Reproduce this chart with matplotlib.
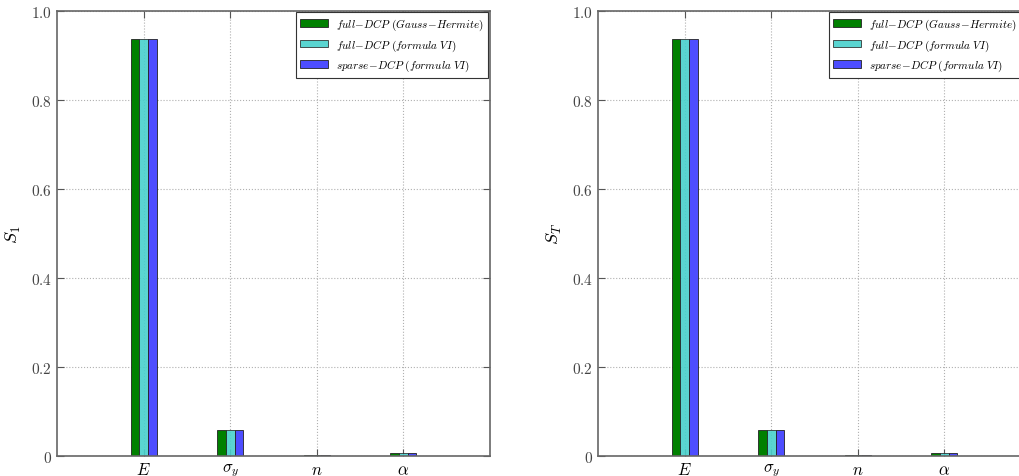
import matplotlib
matplotlib.use("Agg")
import matplotlib.pyplot as plt
import numpy as np

plt.rcParams['mathtext.fontset'] = 'cm'
plt.rcParams['font.family'] = 'serif'
plt.rcParams['font.serif'] = ['DejaVu Serif']

params = [r'$E$', r'$\sigma_y$', r'$n$', r'$\alpha$']
labels = [r'$full\!-\!DCP\ (Gauss\!-\!Hermite)$',
          r'$full\!-\!DCP\ (formula\ VI)$',
          r'$sparse\!-\!DCP\ (formula\ VI)$']

# first-order indices
s1_gh = [0.937, 0.058, 0.002, 0.006]
s1_f6 = [0.937, 0.058, 0.002, 0.006]
s1_sp = [0.938, 0.059, 0.002, 0.006]

# total indices
st_gh = [0.937, 0.058, 0.002, 0.006]
st_f6 = [0.937, 0.059, 0.002, 0.006]
st_sp = [0.938, 0.059, 0.002, 0.006]

colors = ['#008000', '#48d1cc', '#4d4dff']
ylabels = [r'$S_1$', r'$S_T$']

fig = plt.figure(figsize=(10.19, 4.77), dpi=100)
ax1 = fig.add_axes([57/1019, 20/477, 433/1019, 445/477])
ax2 = fig.add_axes([598/1019, 20/477, 433/1019, 445/477])

x = np.arange(len(params))
w = 0.1

for ax, series, yl in [(ax1, [s1_gh, s1_f6, s1_sp], ylabels[0]),
                       (ax2, [st_gh, st_f6, st_sp], ylabels[1])]:
    ax.set_axisbelow(True)
    for i, (vals, c, lab) in enumerate(zip(series, colors, labels)):
        ax.bar(x + (i - 1) * w, vals, w, color=c, edgecolor='#222222',
               linewidth=0.6, label=lab, alpha=0.9 if i == 1 else 1.0)
    ax.set_xlim(-1, 4)
    ax.set_ylim(0, 1)
    ax.set_xticks(x)
    ax.set_xticklabels(params, fontsize=12)
    ax.set_yticks([0, 0.2, 0.4, 0.6, 0.8, 1.0])
    ax.set_yticklabels([r'$0$', r'$0.2$', r'$0.4$', r'$0.6$', r'$0.8$', r'$1.0$'],
                       fontsize=11, color='#444444')
    ax.tick_params(direction='in', top=True, right=True, length=5,
                   color='#555555', width=0.8)
    for sp in ax.spines.values():
        sp.set_color('#666666')
        sp.set_linewidth(1.2)
    ax.grid(True, linestyle=':', color='#b0b0b0', linewidth=0.8)
    ax.set_ylabel(yl, fontsize=13, labelpad=6)

# right panel is cut by the figure edge, so keep its legend text inside
for ax, anchor in [(ax1, (488/1019, 1 - 13/477)), (ax2, (1021/1019, 1 - 13/477))]:
    leg = ax.legend(loc='upper right', fontsize=8, fancybox=False,
                    edgecolor='#333333', framealpha=1, handlelength=2.5,
                    handletextpad=0.7, borderaxespad=0,
                    bbox_to_anchor=anchor, bbox_transform=fig.transFigure)
    leg.get_frame().set_linewidth(0.8)

fig.savefig('out.png', dpi=100)
